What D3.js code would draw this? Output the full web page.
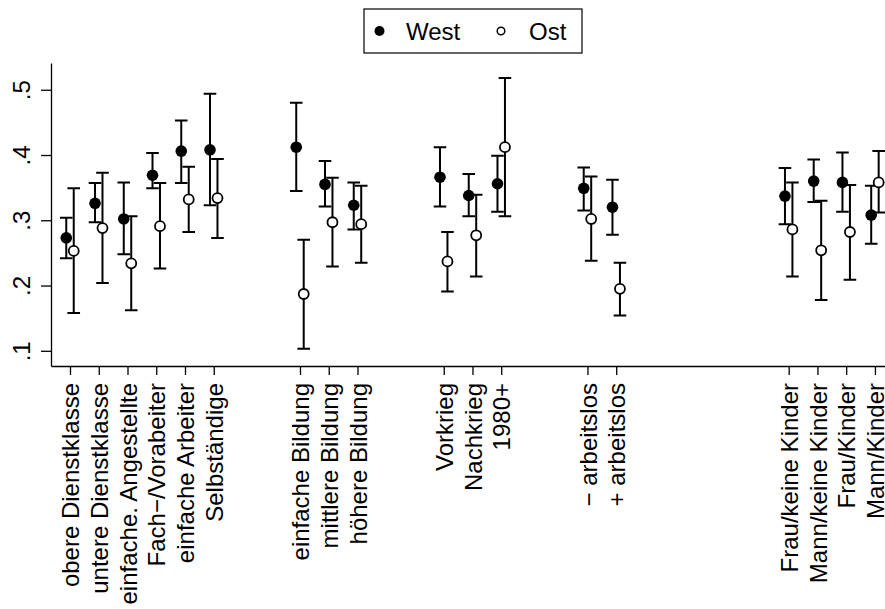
<!DOCTYPE html>
<html>
<head>
<meta charset="utf-8">
<script src="https://cdn.jsdelivr.net/npm/d3@7"></script>
<style>
  body { margin: 0; background: #fff; }
  svg { display: block; font-family: "Liberation Sans", Arial, sans-serif; }
  .axis path, .axis line { stroke: #000; stroke-width: 1.3; }
  .axis text { font-size: 24px; fill: #000; }
</style>
</head>
<body>
<svg id="chart" width="885" height="609"></svg>
<script>
// Categories and their slot on the x axis (gaps separate the groups).
const labels = [
  "obere Dienstklasse", "untere Dienstklasse", "einfache. Angestellte",
  "Fach−/Vorabeiter", "einfache Arbeiter", "Selbständige",
  "einfache Bildung", "mittlere Bildung", "höhere Bildung",
  "Vorkrieg", "Nachkrieg", "1980+",
  "− arbeitslos", "+ arbeitslos",
  "Frau/keine Kinder", "Mann/keine Kinder", "Frau/Kinder", "Mann/Kinder"
];
const slots = [0, 1, 2, 3, 4, 5, 8, 9, 10, 13, 14, 15, 18, 19, 25, 26, 27, 28];

const westMean = [0.273, 0.326, 0.302, 0.369, 0.406, 0.408, 0.412, 0.355, 0.323, 0.366, 0.338, 0.356, 0.349, 0.320, 0.337, 0.360, 0.358, 0.308];
const westLo   = [0.242, 0.297, 0.248, 0.349, 0.357, 0.323, 0.345, 0.321, 0.286, 0.321, 0.306, 0.313, 0.315, 0.278, 0.294, 0.328, 0.313, 0.264];
const westHi   = [0.304, 0.357, 0.358, 0.403, 0.453, 0.494, 0.480, 0.391, 0.358, 0.412, 0.371, 0.399, 0.381, 0.362, 0.380, 0.393, 0.404, 0.353];

const ostMean = [0.253, 0.288, 0.234, 0.291, 0.332, 0.334, 0.187, 0.297, 0.294, 0.237, 0.277, 0.412, 0.302, 0.195, 0.286, 0.254, 0.282, 0.358];
const ostLo   = [0.158, 0.204, 0.162, 0.226, 0.282, 0.273, 0.103, 0.229, 0.235, 0.191, 0.214, 0.306, 0.238, 0.154, 0.214, 0.178, 0.209, 0.312];
const ostHi   = [0.349, 0.373, 0.306, 0.357, 0.382, 0.394, 0.270, 0.365, 0.353, 0.282, 0.339, 0.518, 0.367, 0.235, 0.358, 0.330, 0.354, 0.406];

const yTicks = [0.1, 0.2, 0.3, 0.4, 0.5];
const yTickLabels = [".1", ".2", ".3", ".4", ".5"];

const svg = d3.select("#chart");

// plot area in pixels; domains chosen so slot 0 sits at x=70 and .5 at y=90
const x = d3.scaleLinear().domain([-0.661, 28.35]).range([51, 885]);
const y = d3.scaleLinear().domain([0.0767, 0.541]).range([366, 63]);
const off = 0.13;   // West/Ost side-by-side offset in slot units
const cap = 6.3;

// axes
svg.append("g").attr("class", "axis")
  .attr("transform", "translate(51,0)")
  .call(d3.axisLeft(y).tickValues(yTicks).tickFormat((d, i) => yTickLabels[i])
    .tickSize(10).tickSizeOuter(0))
  .call(g => g.selectAll(".tick text")
    .attr("transform", "rotate(-90)")
    .attr("x", 0).attr("y", -21).attr("dy", null)
    .attr("text-anchor", "middle"));

svg.append("g").attr("class", "axis")
  .attr("transform", "translate(0,366)")
  .call(d3.axisBottom(x).tickValues(slots).tickFormat((d, i) => labels[i])
    .tickSize(9).tickSizeOuter(0))
  .call(g => g.selectAll(".tick text")
    .attr("transform", "rotate(-90)")
    .attr("x", -17).attr("y", 0).attr("dy", "0.36em")
    .attr("text-anchor", "end"));

const idx = d3.range(labels.length);

function capBars(cls, dx, lo, hi) {
  const g = svg.append("g").attr("class", cls)
    .attr("stroke", "#000").attr("stroke-width", 2).attr("fill", "none");
  g.selectAll("path").data(idx).join("path")
    .attr("d", i => {
      const cx = x(slots[i] + dx), y0 = y(lo[i]), y1 = y(hi[i]);
      return `M${cx - cap},${y1}H${cx + cap}M${cx},${y1}V${y0}M${cx - cap},${y0}H${cx + cap}`;
    });
}
capBars("west-ci", -off, westLo, westHi);
capBars("ost-ci", off, ostLo, ostHi);

svg.append("g").selectAll("circle").data(idx).join("circle")
  .attr("cx", i => x(slots[i] - off)).attr("cy", i => y(westMean[i]))
  .attr("r", 5.8).attr("fill", "#000");

svg.append("g").selectAll("circle").data(idx).join("circle")
  .attr("cx", i => x(slots[i] + off)).attr("cy", i => y(ostMean[i]))
  .attr("r", 5).attr("fill", "#fff").attr("stroke", "#000").attr("stroke-width", 1.8);

// legend
const lg = svg.append("g");
lg.append("rect").attr("x", 364).attr("y", 9).attr("width", 218).attr("height", 44)
  .attr("fill", "#fff").attr("stroke", "#000").attr("stroke-width", 1.2);
lg.append("circle").attr("cx", 379.5).attr("cy", 31).attr("r", 5).attr("fill", "#000");
lg.append("text").attr("x", 406).attr("y", 40).attr("font-size", 24).text("West");
lg.append("circle").attr("cx", 501).attr("cy", 31).attr("r", 3.8)
  .attr("fill", "#fff").attr("stroke", "#000").attr("stroke-width", 1.5);
lg.append("text").attr("x", 529).attr("y", 40).attr("font-size", 24).text("Ost");
</script>
</body>
</html>
